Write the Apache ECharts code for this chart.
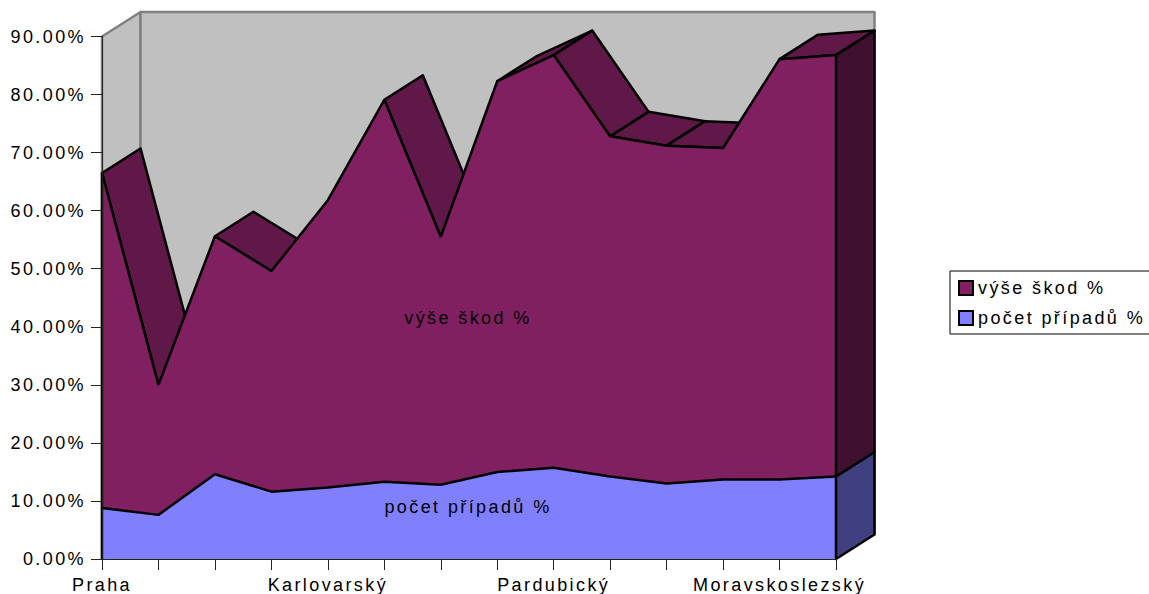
<!DOCTYPE html>
<html>
<head>
<meta charset="utf-8">
<style>
html,body{margin:0;padding:0;background:#fff;overflow:hidden}
#c{width:1149px;height:594px}
svg text{letter-spacing:2.4px}
</style>
<script src="https://cdn.jsdelivr.net/npm/echarts@6/dist/echarts.min.js"></script>
</head>
<body>
<div id="c"></div>
<script>
const categories = ['Praha','Středočeský','Jihočeský','Plzeňský','Karlovarský','Ústecký','Liberecký','Královéhradecký','Pardubický','Vysočina','Jihomoravský','Olomoucký','Moravskoslezský','Zlínský'];
const pocetPripadu = [8.8,7.6,14.6,11.6,12.3,13.3,12.8,15.0,15.7,14.2,13.0,13.7,13.7,14.2];
const vyseSkod = [57.7,22.4,41.0,38.0,49.5,65.8,42.7,67.3,71.1,58.6,58.2,57.1,72.4,72.6];
const yMax = 90;
const nameSkod = 'výše škod %';
const namePocet = 'počet případů %';

const totals = vyseSkod.map((v,i)=>v+pocetPripadu[i]);
const DX = 38.5, DY = -24.5;
const FAMILY = '"Liberation Sans", Arial, sans-serif';
const FONT = '18px ' + FAMILY;
const last = categories.length-1;

function poly(points, fill, stroke, lw){
  return {type:'polygon', shape:{points}, style:{fill, stroke, lineWidth:lw, lineJoin:'round'}};
}
function back(p){ return [p[0]+DX,p[1]+DY]; }

const chart = echarts.init(document.getElementById('c'), null, {renderer:'svg', width:1149, height:594});
chart.setOption({
  animation:false,
  backgroundColor:'#fff',
  grid:{left:102, right:313, top:36.5, bottom:35},
  legend:{
    show:true, orient:'vertical', left:950, top:271,
    padding:[8,60,7,8], itemWidth:14, itemHeight:14, itemGap:12,
    borderColor:'#000', borderWidth:1, backgroundColor:'#fff',
    textStyle:{color:'#000', fontSize:18, fontFamily:FAMILY},
    data:[
      {name:nameSkod, icon:'rect', itemStyle:{color:'#802060', borderColor:'#000', borderWidth:2}},
      {name:namePocet, icon:'rect', itemStyle:{color:'#8080FF', borderColor:'#000', borderWidth:2}}
    ]
  },
  xAxis:{
    type:'category', data:categories, boundaryGap:false, z:5,
    axisLine:{show:true, lineStyle:{color:'#222', width:1}},
    axisTick:{show:true, length:11, interval:0, alignWithLabel:true, lineStyle:{color:'#222', width:1}},
    axisLabel:{interval:i=>i%4===0, margin:17, color:'#000', fontSize:18, fontFamily:FAMILY, hideOverlap:false},
    splitLine:{show:false}
  },
  yAxis:{
    type:'value', min:0, max:yMax, interval:10, z:5,
    axisLine:{show:true, lineStyle:{color:'#222', width:1}},
    axisTick:{show:true, length:11, lineStyle:{color:'#222', width:1}},
    axisLabel:{margin:16, color:'#000', fontSize:18, fontFamily:FAMILY, formatter:v=>v.toFixed(2)+'%'},
    splitLine:{show:false}
  },
  series:[
    {
      type:'custom', name:'walls', z:1, silent:true,
      data:[[0,0]], encode:{x:0,y:1},
      renderItem:(p,api)=>{
        const a=api.coord([0,0]), b=api.coord([0,yMax]), c=api.coord([last,yMax]), d=api.coord([last,0]);
        return {type:'group', children:[
          poly([a,b,back(b),back(a)],'#C0C0C0','#808080',2.5),
          poly([back(a),back(b),back(c),back(d)],'#C0C0C0','#808080',2.5)
        ]};
      }
    },
    {
      type:'custom', name:'topFaces', z:2, silent:true,
      data:totals.map((t,i)=>[i,t]), encode:{x:0,y:1},
      renderItem:(p,api)=>{
        const i=api.value(0);
        if(i>=last) return null;
        const a=api.coord([i,totals[i]]), b=api.coord([i+1,totals[i+1]]);
        if((a[1]-b[1])/(b[0]-a[0]) >= -DY/DX) return null;
        return poly([a,b,back(b),back(a)],'#601848','#000',2.5);
      }
    },
    {
      type:'line', name:namePocet, stack:'s', z:3, data:pocetPripadu, showSymbol:false,
      lineStyle:{color:'#000', width:2.5}, areaStyle:{color:'#8080FF', opacity:1}, itemStyle:{color:'#8080FF'}
    },
    {
      type:'line', name:nameSkod, stack:'s', z:3, data:vyseSkod, showSymbol:false,
      lineStyle:{color:'#000', width:2.5}, areaStyle:{color:'#802060', opacity:1}, itemStyle:{color:'#802060'}
    },
    {
      type:'custom', name:'sides', z:4, silent:true,
      data:[[last,0]], encode:{x:0,y:1},
      renderItem:(p,api)=>{
        const b0=api.coord([last,0]), b1=api.coord([last,pocetPripadu[last]]), b2=api.coord([last,totals[last]]);
        const l0=api.coord([0,0]), l2=api.coord([0,totals[0]]);
        return {type:'group', children:[
          poly([b0,b1,back(b1),back(b0)],'#404080','#000',2.5),
          poly([b1,b2,back(b2),back(b1)],'#401030','#000',2.5),
          {type:'line', shape:{x1:l0[0],y1:l0[1],x2:l2[0],y2:l2[1]}, style:{stroke:'#000', lineWidth:2.5}}
        ]};
      }
    },
    {
      type:'custom', name:'labels', z:6, silent:true,
      data:[[6,41.5],[6,9]], encode:{x:0,y:1},
      renderItem:(p,api)=>{
        const i=api.value(0), q=api.coord([i,api.value(1)]), r=api.coord([i+1,api.value(1)]);
        return {type:'text', x:(q[0]+r[0])/2-1, y:q[1], style:{
          text:p.dataIndex===0?nameSkod:namePocet, fill:'#000', font:FONT, align:'center', verticalAlign:'middle'
        }};
      }
    }
  ]
});
</script>
</body>
</html>
